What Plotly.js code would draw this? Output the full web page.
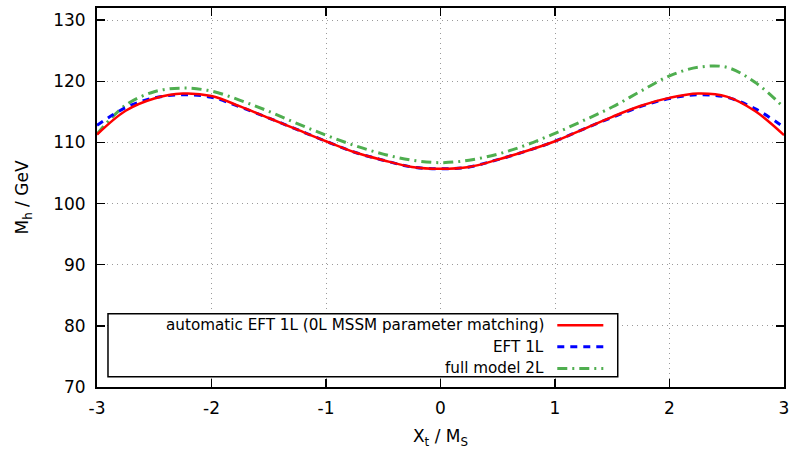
<!DOCTYPE html>
<html>
<head>
<meta charset="utf-8">
<script src="https://cdn.plot.ly/plotly-3.0.1.min.js"></script>
<style>html,body{margin:0;padding:0;background:#fff;}#chart{width:791px;height:449px;}</style>
</head>
<body>
<div id="chart"></div>
<script>
const xt = [-3, -2.75, -2.5, -2.25, -2, -1.75, -1.5, -1.25, -1, -0.75, -0.5, -0.25, 0, 0.25, 0.5, 0.75, 1, 1.25, 1.5, 1.75, 2, 2.25, 2.5, 2.75, 3];
const autoEFT1L = [111.3, 115.2, 117.2, 118.0, 117.6, 115.9, 114.0, 112.1, 110.2, 108.4, 107.1, 106.0, 105.7, 106.0, 107.2, 108.6, 110.2, 112.2, 114.2, 116.0, 117.3, 118.0, 117.5, 115.1, 111.2];
const eft1L = [112.8, 115.7, 117.3, 117.8, 117.4, 115.8, 114.0, 112.1, 110.2, 108.4, 107.1, 106.0, 105.7, 106.0, 107.2, 108.6, 110.2, 112.2, 114.1, 115.9, 117.2, 117.8, 117.4, 115.5, 112.5];
const full2L = [111.4, 116.1, 118.3, 118.9, 118.4, 116.9, 115.1, 113.1, 111.2, 109.5, 108.1, 107.1, 106.7, 107.1, 108.1, 109.6, 111.5, 113.6, 115.8, 118.4, 120.9, 122.3, 122.3, 119.8, 115.7];
const names = ["automatic EFT 1L (0L MSSM parameter matching)", "EFT 1L", "full model 2L"];
const colors = ["#ff0000", "#0000ff", "#4fae4f"];
const dashes = ["solid", "7px,6px", "10px,5px,2px,5px"];
const xTicks = [-3, -2, -1, 0, 1, 2, 3];
const yTicks = [70, 80, 90, 100, 110, 120, 130];

const series = [autoEFT1L, eft1L, full2L];
const traces = series.map((ys, i) => ({
  x: xt, y: ys, type: "scatter", mode: "lines", name: names[i],
  line: {color: colors[i], width: i === 0 ? 2.5 : 3, dash: dashes[i], shape: "spline", smoothing: 1},
  showlegend: false
}));
traces.reverse();

const font = {family: "DejaVu Sans", size: 17, color: "#000"};
const lgFont = {family: "DejaVu Sans", size: 15.2, color: "#000"};
const axisCommon = {
  showline: true, linecolor: "#000", linewidth: 2, mirror: "ticks",
  ticks: "inside", ticklen: 8, tickwidth: 1.5, tickcolor: "#000",
  showgrid: true, gridcolor: "#9a9a9a", griddash: "1px,4px", gridwidth: 1,
  zeroline: false, tickfont: font
};

// legend (manual, gnuplot style: text right, sample on right)
const lgX0 = 0.016, lgX1 = 0.758, lgY0 = 0.027, lgY1 = 0.193;
const rowY = [0.163, 0.106, 0.049];
const shapes = [{type: "rect", xref: "paper", yref: "paper", x0: lgX0, x1: lgX1, y0: lgY0, y1: lgY1,
  line: {color: "#000", width: 1.5}, fillcolor: "#fff", layer: "above"}];
const annotations = [];
names.forEach((n, i) => {
  shapes.push({type: "line", xref: "paper", yref: "paper", x0: 0.670, x1: 0.737, y0: rowY[i], y1: rowY[i],
    line: {color: colors[i], width: i === 0 ? 2.5 : 3, dash: dashes[i]}, layer: "above"});
  annotations.push({xref: "paper", yref: "paper", x: 0.654, y: rowY[i], xanchor: "right", yanchor: "middle",
    text: n, showarrow: false, font: lgFont});
});

const layout = {
  width: 791, height: 449,
  margin: {l: 97, r: 7, t: 8, b: 62},
  paper_bgcolor: "#fff", plot_bgcolor: "#fff",
  font: font,
  xaxis: Object.assign({}, axisCommon, {range: [-3, 3], tickvals: xTicks, ticktext: xTicks.map(String),
    ticklabelstandoff: 5,
    title: {text: "X<sub>t</sub> / M<sub>S</sub>", font: font, standoff: 14}}),
  yaxis: Object.assign({}, axisCommon, {range: [70, 132], tickvals: yTicks, ticktext: yTicks.map(String),
    ticklabelstandoff: 6,
    title: {text: "M<sub>h</sub> / GeV", font: font, standoff: 20}}),
  shapes: shapes,
  annotations: annotations,
  showlegend: false
};
Plotly.newPlot("chart", traces, layout, {displayModeBar: false, staticPlot: true});
</script>
</body>
</html>
